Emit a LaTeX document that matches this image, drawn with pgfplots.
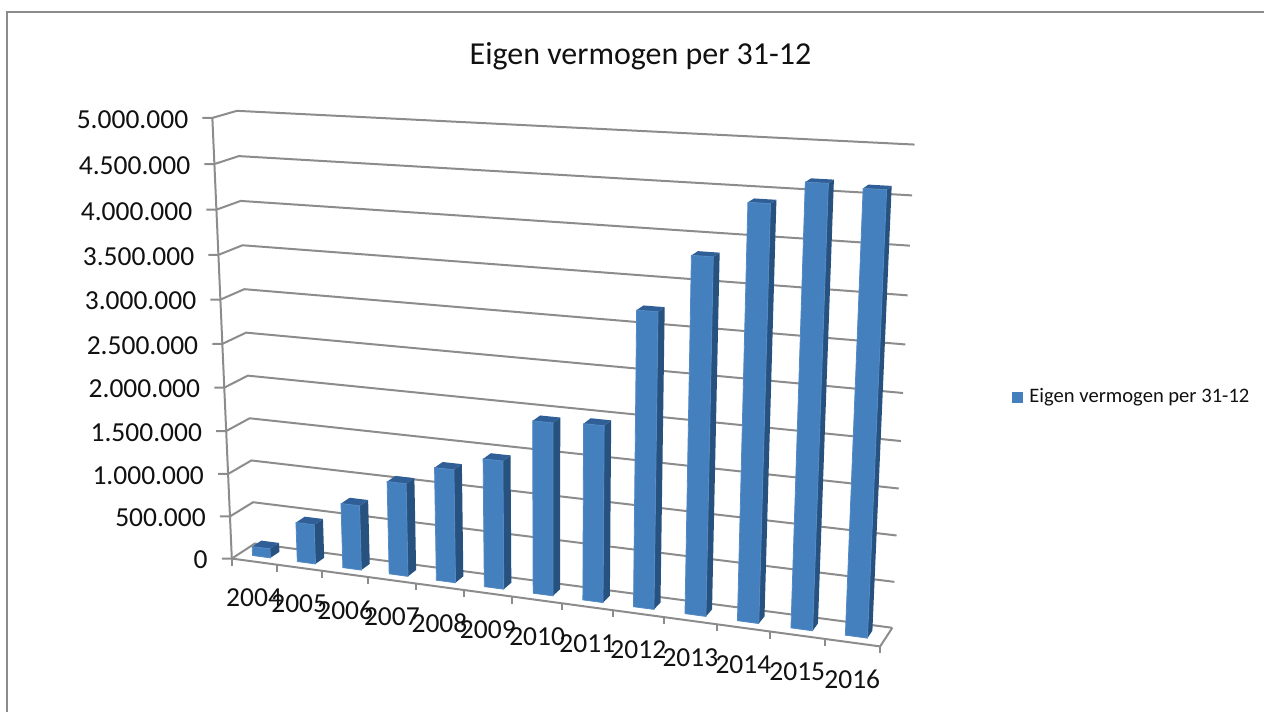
\documentclass[border=0pt]{standalone}
\usepackage{pgfplots}
\usepackage{pgfplotstable}
\usepackage{fontspec}
\pgfplotsset{compat=1.18}
\setmainfont{Carlito}

\definecolor{gridgray}{HTML}{8C8C8C}
\definecolor{framegray}{HTML}{8C8C8C}
\definecolor{barfront}{HTML}{4480BE}
\definecolor{barrim}{HTML}{5289C4}
\definecolor{barside}{HTML}{27527F}
\definecolor{bartop}{HTML}{2F5F96}
\definecolor{inktext}{HTML}{111111}

% Equity at year end, in thousands of euros
\pgfplotstableread{
jaar  waarde
2004  107
2005  461
2006  750
2007  1068
2008  1290
2009  1450
2010  1930
2011  1956
2012  3220
2013  3830
2014  4405
2015  4640
2016  4610
}\eigenvermogen

% Perspective projection of the chart box: t along the years, d into the
% depth, v up the value axis, all from 0 to 1; result in the macros #4 and #5
\newcommand\proj[5]{%
  \pgfmathsetmacro\projw{1-0.11*#1+0.0191*#2-0.05*#3}%
  \pgfmathsetmacro#4{(232+552*#1+27.87*#2-30.1*#3+4.5*#1*#3)/\projw}%
  \pgfmathsetmacro#5{(559+16.8*#1-4.6*#2-446.9*#3)/\projw}%
}
\newcommand\axisfont{\fontsize{27.5}{29}\selectfont\color{inktext}}

% One bar: column number, value in thousands
\newcommand\drawbar[2]{%
  \pgfmathsetmacro\tl{(#1+0.30)/13}%
  \pgfmathsetmacro\tr{(#1+0.70)/13}%
  \pgfmathsetmacro\vv{#2/5000}%
  \def\da{0.32}\def\db{0.72}%
  \proj{\tl}{\da}{0}\xa\ya
  \proj{\tr}{\da}{0}\xb\yb
  \proj{\tr}{\db}{0}\xc\yc
  \proj{\tl}{\da}{\vv}\xd\yd
  \proj{\tr}{\da}{\vv}\xe\ye
  \proj{\tr}{\db}{\vv}\xf\yf
  \proj{\tl}{\db}{\vv}\xg\yg
  \edef\next{%
    \noexpand\addplot[fill=barside,draw=none] coordinates {(\xb,\yb) (\xc,\yc) (\xf,\yf) (\xe,\ye)} -- cycle;
    \noexpand\addplot[fill=bartop,draw=none] coordinates {(\xd,\yd) (\xe,\ye) (\xf,\yf) (\xg,\yg)} -- cycle;
    \noexpand\addplot[fill=barfront,draw=barrim,line width=0.8pt] coordinates {(\xa,\ya) (\xb,\yb) (\xe,\ye) (\xd,\yd)} -- cycle;
  }\next
}

% One gridline with its tick and label: level 0 to 1, label text
\newcommand\drawlevel[2]{%
  \proj{0}{0}{#1}\xa\ya
  \proj{0}{1}{#1}\xb\yb
  \proj{1}{1}{#1}\xc\yc
  \pgfmathsetmacro\xt{\xa-10}%
  \pgfmathsetmacro\xl{\xa-24}%
  \pgfmathsetmacro\yl{\ya+1.5}%
  \edef\next{%
    \noexpand\addplot[gridgray,line width=2pt] coordinates {(\xt,\ya) (\xa,\ya) (\xb,\yb) (\xc,\yc)};
    \noexpand\node[anchor=east,inner sep=0pt,font=\noexpand\axisfont] at (axis cs:\xl,\yl) {#2};
  }\next
}

\begin{document}
\begin{tikzpicture}
\begin{axis}[
  scale only axis, width=1265pt, height=713pt,
  xmin=0, xmax=1265, ymin=0, ymax=713, y dir=reverse,
  enlargelimits=false, hide axis, clip=false,
]
  \path (axis cs:0,0) rectangle (axis cs:1265,713);

  % Chart area border
  \addplot[framegray,line width=2pt] coordinates {(7,713) (7,12) (1265,12)};

  % Back wall gridlines and value labels
  \drawlevel{1.0}{5.000.000}
  \drawlevel{0.9}{4.500.000}
  \drawlevel{0.8}{4.000.000}
  \drawlevel{0.7}{3.500.000}
  \drawlevel{0.6}{3.000.000}
  \drawlevel{0.5}{2.500.000}
  \drawlevel{0.4}{2.000.000}
  \drawlevel{0.3}{1.500.000}
  \drawlevel{0.2}{1.000.000}
  \drawlevel{0.1}{500.000}
  \drawlevel{0.0}{0}

  % Value axis and floor outline
  \proj{0}{0}{0}\xa\ya
  \proj{0}{0}{1}\xb\yb
  \proj{1}{0}{0}\xc\yc
  \proj{1}{1}{0}\xd\yd
  \edef\next{%
    \noexpand\addplot[gridgray,line width=2pt] coordinates {(\xa,\ya) (\xb,\yb)};
    \noexpand\addplot[gridgray,line width=2pt] coordinates {(\xa,\ya) (\xc,\yc) (\xd,\yd)};
  }\next

  % Year ticks on the front edge of the floor
  \pgfplotsforeachungrouped \i in {0,...,13}{%
    \pgfmathsetmacro\tt{\i/13}%
    \proj{\tt}{0}{0}\xa\ya
    \pgfmathsetmacro\yt{\ya+7}%
    \edef\next{\noexpand\addplot[gridgray,line width=2pt] coordinates {(\xa,\ya) (\xa,\yt)};}\next
  }

  % Bars and year labels
  \pgfplotsforeachungrouped \i in {0,...,12}{%
    \pgfplotstablegetelem{\i}{waarde}\of\eigenvermogen
    \edef\val{\pgfplotsretval}%
    \pgfplotstablegetelem{\i}{jaar}\of\eigenvermogen
    \edef\jaar{\pgfplotsretval}%
    \drawbar{\i}{\val}%
    \pgfmathsetmacro\tt{(\i+0.5)/13}%
    \proj{\tt}{0}{0}\xa\ya
    \pgfmathsetmacro\yl{\ya+36.5}%
    \edef\next{\noexpand\node[inner sep=0pt,font=\noexpand\axisfont] at (axis cs:\xa,\yl) {\jaar};}\next
  }

  % Title
  \node[inner sep=0pt,font=\fontsize{32}{34}\selectfont\color{inktext}] at (axis cs:641,56) {Eigen vermogen per 31-12};

  % Legend
  \addplot[fill=barfront,draw=none] coordinates {(1013,392) (1024,392) (1024,403) (1013,403)} -- cycle;
  \node[anchor=west,inner sep=0pt,font=\fontsize{20.6}{22}\selectfont\color{inktext}] at (axis cs:1030,397) {Eigen vermogen per 31-12};
\end{axis}
\end{tikzpicture}
\end{document}
